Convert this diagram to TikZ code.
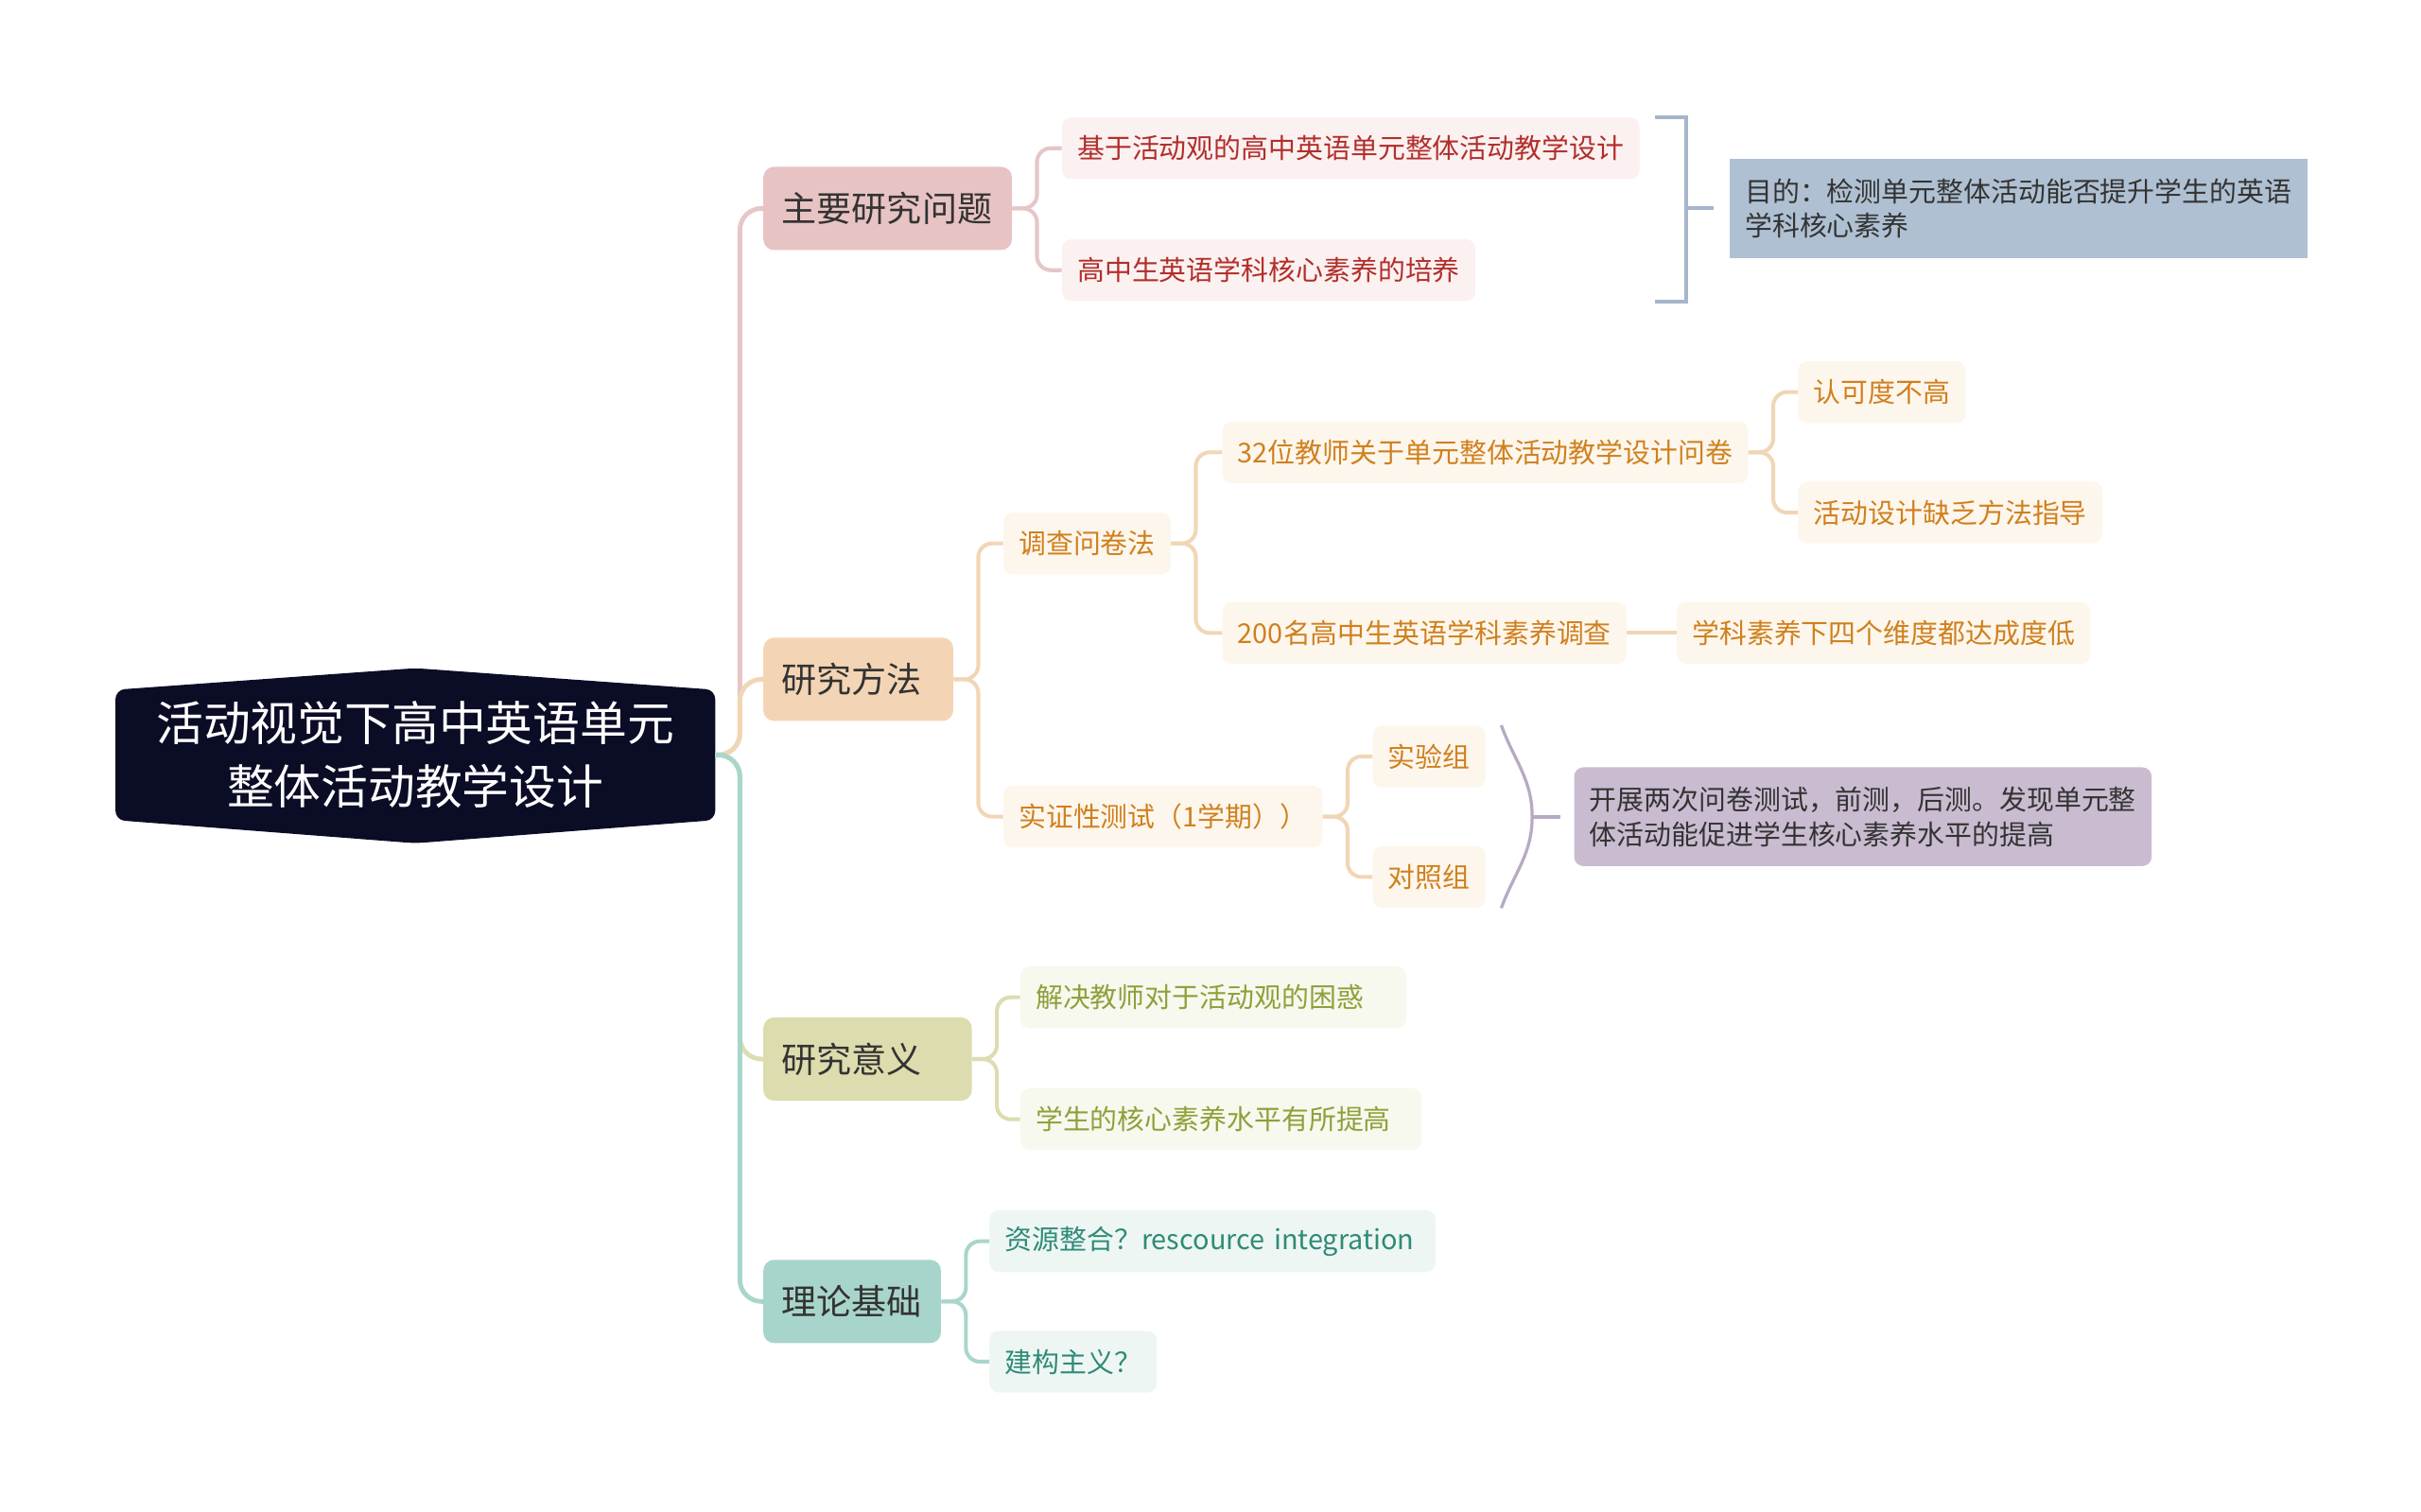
\documentclass[tikz,border=0pt]{standalone}
\usepackage{fontspec}
\setmainfont{Noto Sans CJK SC}
\usetikzlibrary{positioning,calc,backgrounds}

\definecolor{rootbg}{HTML}{0B0C26}
\definecolor{darktxt}{HTML}{333333}
\definecolor{pinkln}{HTML}{E6C6C6}
\definecolor{pinkfill}{HTML}{E8C3C3}
\definecolor{pinkleaf}{HTML}{FBF1F1}
\definecolor{pinktxt}{HTML}{B22E2A}
\definecolor{orangeln}{HTML}{F1D6B6}
\definecolor{orangefill}{HTML}{F3D5B5}
\definecolor{orangeleaf}{HTML}{FDF6EC}
\definecolor{orangetxt}{HTML}{D0801E}
\definecolor{oliveln}{HTML}{DDDCB2}
\definecolor{olivefill}{HTML}{DCDCAE}
\definecolor{oliveleaf}{HTML}{F7F8EE}
\definecolor{olivetxt}{HTML}{8FA03A}
\definecolor{tealln}{HTML}{A9D5CC}
\definecolor{tealfill}{HTML}{A8D5CB}
\definecolor{tealleaf}{HTML}{EEF6F3}
\definecolor{tealtxt}{HTML}{2E8B78}
\definecolor{aimln}{HTML}{A6B6CA}
\definecolor{aimfill}{HTML}{AFC0D2}
\definecolor{findln}{HTML}{B7AAC3}
\definecolor{findfill}{HTML}{C9BCD0}

\begin{document}
\begin{tikzpicture}[x=1pt,y=1pt,
  every node/.style={inner sep=0pt},
  rootnode/.style={text=white,align=center,minimum width=388pt,minimum height=84pt,font=\fontsize{30.5}{41}\selectfont},
  branch/.style={rounded corners=7pt,align=left,inner xsep=12pt,minimum height=54pt,text=darktxt,font=\fontsize{22.7}{27}\selectfont},
  leaf/.style={rounded corners=6pt,inner xsep=10pt,minimum height=40pt,font=\fontsize{17.7}{22}\selectfont},
  leafpink/.style={leaf,fill=pinkleaf,text=pinktxt},
  leaforange/.style={leaf,fill=orangeleaf,text=orangetxt},
  leafolive/.style={leaf,fill=oliveleaf,text=olivetxt},
  leafteal/.style={leaf,fill=tealleaf,text=tealtxt},
  notebox/.style={align=left,inner xsep=10pt,minimum height=64pt,text width=354pt,text=darktxt,font=\fontsize{17.7}{22.5}\selectfont},
  trunk/.style={draw,line width=3pt,rounded corners=14pt,to path={(\tikztostart.east) -- ++(16,0) |- (\tikztotarget.west)}},
  link/.style={draw,line width=2.5pt,rounded corners=9pt,to path={(\tikztostart.east) -- ++(16,0) |- (\tikztotarget.west)}},
  straight/.style={draw,line width=2.5pt,to path={(\tikztostart.east) -- (\tikztotarget.west)}}]

\useasboundingbox (0,0) rectangle (1568,-979);

% Nodes
\node[rootnode] (root) at (269,-489) {活动视觉下高中英语单元\\整体活动教学设计};

\node[branch,fill=pinkfill,text width=137pt,right=31pt of root,yshift=354pt] (prob) {主要研究问题};
\node[leafpink,right=32pt of prob,yshift=39pt] (q1) {基于活动观的高中英语单元整体活动教学设计};
\node[leafpink,right=32pt of prob,yshift=-40pt] (q2) {高中生英语学科核心素养的培养};

\node[branch,fill=orangefill,text width=99pt,right=31pt of root,yshift=49pt] (meth) {研究方法};
\node[leaforange,right=32pt of meth,yshift=88pt] (survey) {调查问卷法};
\node[leaforange,right=32pt of meth,yshift=-89pt] (test) {实证性测试（1学期））};
\node[leaforange,right=33pt of survey,yshift=59pt] (teach) {32位教师关于单元整体活动教学设计问卷};
\node[leaforange,right=33pt of survey,yshift=-58pt] (stud) {200名高中生英语学科素养调查};
\node[leaforange,right=32pt of teach,yshift=39pt] (agree) {认可度不高};
\node[leaforange,right=32pt of teach,yshift=-39pt] (lack) {活动设计缺乏方法指导};
\node[leaforange,right=32pt of stud] (low) {学科素养下四个维度都达成度低};
\node[leaforange,right=32pt of test,yshift=39pt] (expg) {实验组};
\node[leaforange,right=32pt of test,yshift=-39pt] (ctrg) {对照组};

\node[branch,fill=olivefill,text width=111pt,right=31pt of root,yshift=-197pt] (sig) {研究意义};
\node[leafolive,align=left,text width=230pt,right=31pt of sig,yshift=40pt] (s1) {解决教师对于活动观的困惑};
\node[leafolive,align=left,text width=240pt,right=31pt of sig,yshift=-39pt] (s2) {学生的核心素养水平有所提高};

\node[branch,fill=tealfill,text width=91pt,right=31pt of root,yshift=-354pt] (theo) {理论基础};
\node[leafteal,align=left,text width=269pt,right=31pt of theo,yshift=39pt] (t1) {资源整合？rescource integration};
\node[leafteal,right=31pt of theo,yshift=-39pt] (t2) {建构主义？};

% root shape
\begin{scope}[on background layer]
\fill[rootbg,rounded corners=6pt] (root.north west) -- ($(root.north)+(0,14)$) -- (root.north east) -- (root.south east) -- ($(root.south)+(0,-15)$) -- (root.south west) -- cycle;
\end{scope}

% summaries
\coordinate (bt) at ($(q1.north east)+(10,0)$);
\coordinate (bm) at ($(bt |- prob)+(20,0)$);
\draw[aimln,line width=2.5pt] (bt) -- ++(20,0) |- (bt |- q2.south);
\draw[aimln,line width=2.5pt] (bm) -- ++(18,0);
\node[notebox,fill=aimfill,right=28pt of bm] (aim) {目的：检测单元整体活动能否提升学生的英语\\学科核心素养};

\coordinate (ct) at ($(expg.north east)+(10,0)$);
\coordinate (cb) at ($(ctrg.south east)+(10,0)$);
\coordinate (cm) at ($($(ct)!0.5!(cb)$)+(20,0)$);
\draw[findln,line width=2pt] (ct) to[out=-70,in=90] (cm) to[out=-90,in=70] (cb);
\draw[findln,line width=2.5pt] (cm) -- ++(18,0);
\node[notebox,fill=findfill,rounded corners=6pt,right=27pt of cm] (find) {开展两次问卷测试，前测，后测。发现单元整\\体活动能促进学生核心素养水平的提高};

%arcs
\path (root) edge[trunk,pinkln] (prob);
\path (root) edge[trunk,orangeln] (meth);
\path (root) edge[trunk,oliveln] (sig);
\path (root) edge[trunk,tealln] (theo);

\path (prob) edge[link,pinkln] (q1);
\path (prob) edge[link,pinkln] (q2);

\path (meth) edge[link,orangeln] (survey);
\path (meth) edge[link,orangeln] (test);
\path (survey) edge[link,orangeln] (teach);
\path (survey) edge[link,orangeln] (stud);
\path (teach) edge[link,orangeln] (agree);
\path (teach) edge[link,orangeln] (lack);
\path (stud) edge[straight,orangeln] (low);
\path (test) edge[link,orangeln] (expg);
\path (test) edge[link,orangeln] (ctrg);

\path (sig) edge[link,oliveln] (s1);
\path (sig) edge[link,oliveln] (s2);

\path (theo) edge[link,tealln] (t1);
\path (theo) edge[link,tealln] (t2);

\end{tikzpicture}
\end{document}
